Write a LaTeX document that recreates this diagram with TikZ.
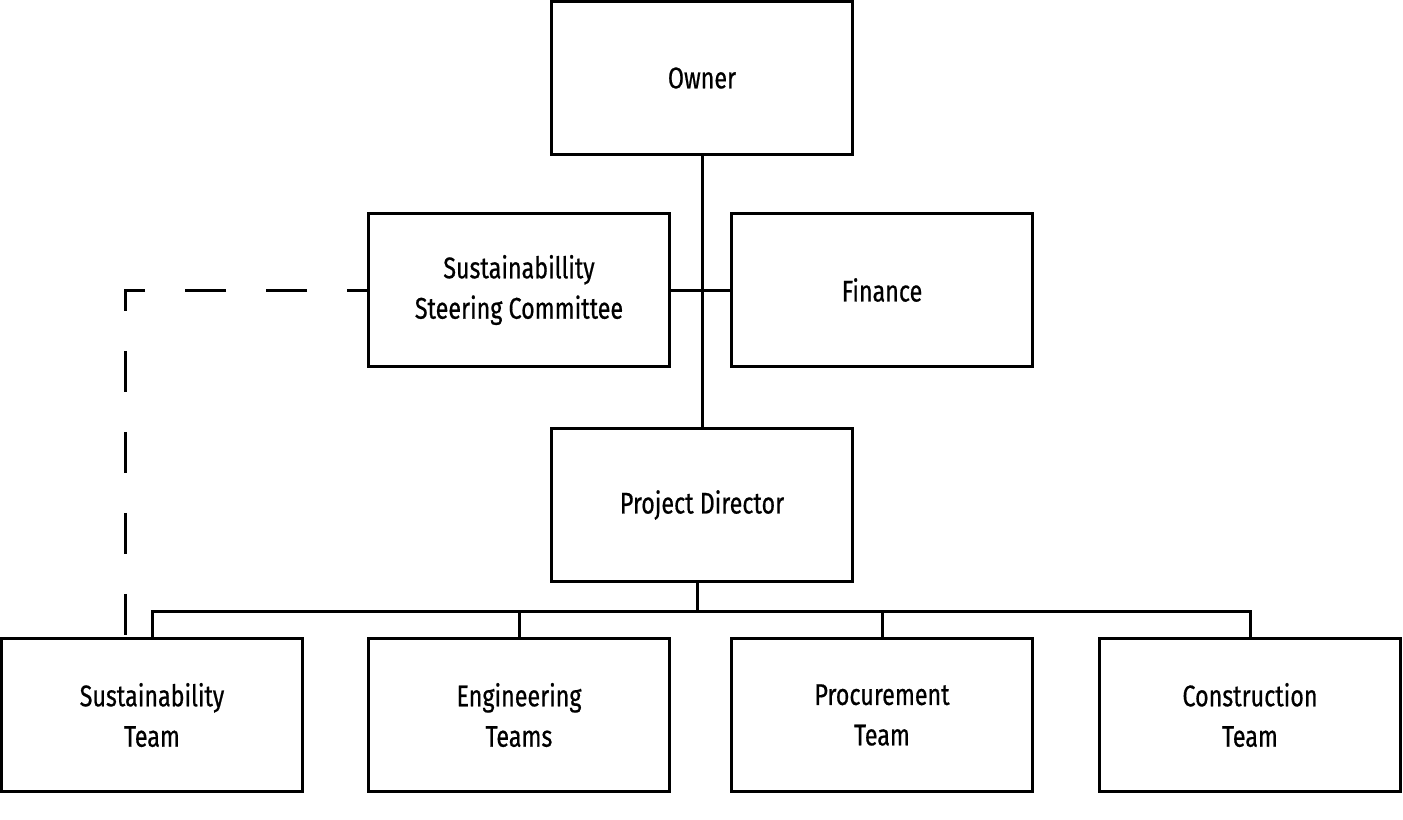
\documentclass[tikz,border=0pt]{standalone}
\usepackage{fontspec}
\setmainfont{Fira Sans}[FakeStretch=0.78,FakeBold=0.6]
\usetikzlibrary{calc}

\tikzset{
  orgbox/.style={draw,line width=0.06cm,minimum width=6.02cm,minimum height=3.06cm,
    align=center,font=\fontsize{17}{23}\selectfont,inner sep=0pt},
  orgline/.style={line width=0.06cm},
  dashlink/.style={line width=0.06cm,dash pattern=on 0.82cm off 0.8cm,dash phase=0.42cm}
}

\begin{document}
\begin{tikzpicture}[x=0.02cm,y=-0.02cm,line cap=butt]
  \useasboundingbox (0,0) rectangle (1403,819);
  % top of the chart
  \node[orgbox] (owner) at (702,78) {Owner};
  \node[orgbox] (steer) at (519,290) {Sustainabillity\\Steering Committee};
  \node[orgbox] (finance) at (882,290) {Finance};
  \node[orgbox] (director) at (702,505) {Project Director};
  % teams
  \node[orgbox] (sustteam) at (152,715) {Sustainability\\Team};
  \node[orgbox] (engteams) at (519,715) {Engineering\\Teams};
  \node[orgbox] (procteam) at (882,715) {Procurement\\Team};
  \node[orgbox] (constteam) at (1250,715) {Construction\\Team};
  % connectors
  \draw[orgline] (owner.south) -- (director.north);
  \draw[orgline] (steer.east) -- (finance.west);
  \coordinate (bus) at ($(director.south)+(-5,29)$);
  \draw[orgline] (bus |- director.south) -- (bus);
  \foreach \t in {sustteam,engteams,procteam,constteam}
    \draw[orgline] (bus) -| (\t.north);
  \coordinate (corner) at ($(steer.west)+(-242,0)$);
  \draw[dashlink] (steer.west) -- (corner) -- (corner |- sustteam.north);
\end{tikzpicture}
\end{document}
